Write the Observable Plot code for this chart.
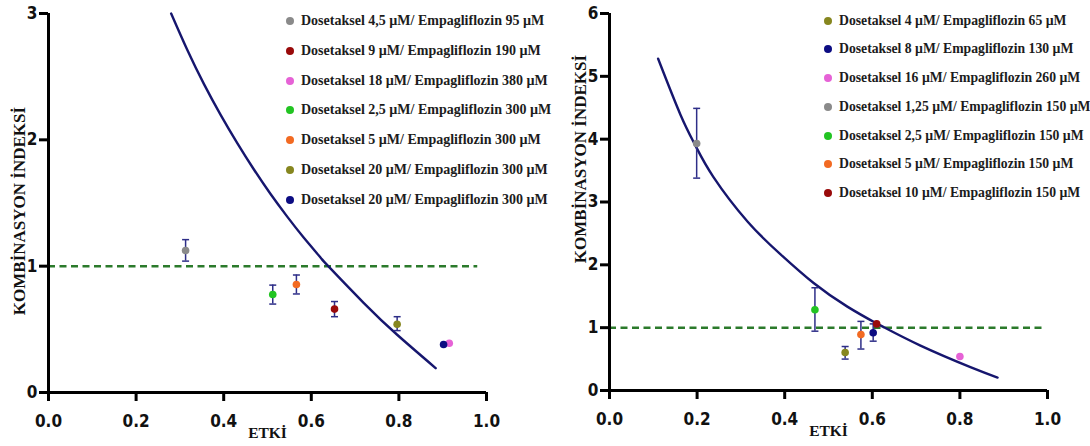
<!DOCTYPE html>
<html><head><meta charset="utf-8">
<script src="https://cdn.jsdelivr.net/npm/d3@7"></script>
<script src="https://cdn.jsdelivr.net/npm/@observablehq/plot@0.6"></script>
<style>
body{margin:0;background:#fff;}
#wrap{position:relative;width:1090px;height:446px;overflow:hidden;background:#fff;}
.panel{position:absolute;top:0;}
.legend{position:absolute;top:0;font-family:"Liberation Serif","Times New Roman",serif;font-weight:bold;color:#1c1c1c;}
.row{position:absolute;left:0;white-space:nowrap;display:flex;align-items:center;height:16px;line-height:16px;}
.sw{width:8px;height:8px;border-radius:50%;display:inline-block;margin-right:7px;flex:none;}
</style></head>
<body>
<div id="wrap">
  <div id="left" class="panel" style="left:0"></div>
  <div id="right" class="panel" style="left:545px"></div>
  <div id="legL" class="legend" style="left:286px;font-size:14px"></div>
  <div id="legR" class="legend" style="left:824px;font-size:13.7px"></div>
</div>
<script>
// ---------- data ----------
const xTicks = [0, 0.2, 0.4, 0.6, 0.8, 1.0];
const leftYTicks = [0, 1, 2, 3];
const rightYTicks = [0, 1, 2, 3, 4, 5, 6];
const yTitle = "KOMBİNASYON İNDEKSİ";
const xTitle = "ETKİ";

// Left panel
const leftLabels = [
  "Dosetaksel 4,5 µM/ Empagliflozin 95 µM",
  "Dosetaksel 9 µM/ Empagliflozin 190 µM",
  "Dosetaksel 18 µM/ Empagliflozin 380 µM",
  "Dosetaksel 2,5 µM/ Empagliflozin 300 µM",
  "Dosetaksel 5 µM/ Empagliflozin 300 µM",
  "Dosetaksel 20 µM/ Empagliflozin 300 µM",
  "Dosetaksel 20 µM/ Empagliflozin 300 µM"
];
const leftColors = ["#8a8a8a", "#990a0a", "#e662d6", "#22c422", "#f26a22", "#86861f", "#0c0c82"];
const leftFa = [0.313, 0.653, 0.915, 0.512, 0.566, 0.796, 0.902];
const leftCI = [1.124, 0.66, 0.39, 0.776, 0.855, 0.54, 0.38];
const leftLo = [1.04, 0.60, null, 0.70, 0.78, 0.49, null];
const leftHi = [1.21, 0.72, null, 0.85, 0.93, 0.60, null];
const leftCurveFa = [0.280, 0.317, 0.355, 0.393, 0.431, 0.469, 0.507, 0.545, 0.583, 0.621, 0.636, 0.720, 0.796, 0.884];
const leftCurveCI = [3.00, 2.711, 2.441, 2.198, 1.974, 1.765, 1.571, 1.392, 1.225, 1.069, 1.010, 0.708, 0.457, 0.193];

// Right panel
const rightLabels = [
  "Dosetaksel 4 µM/ Empagliflozin 65 µM",
  "Dosetaksel 8 µM/ Empagliflozin 130 µM",
  "Dosetaksel 16 µM/ Empagliflozin 260 µM",
  "Dosetaksel 1,25 µM/ Empagliflozin 150 µM",
  "Dosetaksel 2,5 µM/ Empagliflozin 150 µM",
  "Dosetaksel 5 µM/ Empagliflozin 150 µM",
  "Dosetaksel 10 µM/ Empagliflozin 150 µM"
];
const rightColors = ["#86861f", "#0c0c82", "#e662d6", "#8a8a8a", "#22c422", "#f26a22", "#990a0a"];
const rightFa = [0.538, 0.602, 0.800, 0.199, 0.469, 0.574, 0.610];
const rightCI = [0.605, 0.92, 0.54, 3.93, 1.285, 0.89, 1.06];
const rightLo = [0.50, 0.785, null, 3.38, 0.944, 0.66, null];
const rightHi = [0.70, 1.06, null, 4.49, 1.635, 1.10, null];
const rightCurveFa = [0.111, 0.162, 0.196, 0.237, 0.315, 0.390, 0.466, 0.543, 0.607, 0.626, 0.710, 0.824, 0.886];
const rightCurveCI = [5.28, 4.39, 3.90, 3.40, 2.69, 2.17, 1.71, 1.335, 1.078, 1.008, 0.714, 0.372, 0.205];

// ---------- build ----------
const tickFont = '"Liberation Sans Narrow","Arial Narrow","DejaVu Sans Condensed",sans-serif';
const serif = '"Liberation Serif","Times New Roman",serif';
const capSymbol = {draw(ctx) { ctx.moveTo(-3.5, 0); ctx.lineTo(3.5, 0); }};

function makePanel(o) {
  const pts = o.fa.map((x, i) => ({x, y: o.ci[i], color: o.colors[i], lo: o.lo[i], hi: o.hi[i]}));
  const err = pts.filter(d => d.lo != null);
  const curve = o.cfa.map((x, i) => ({x, y: o.cci[i]}));
  return Plot.plot({
    width: 545, height: 446,
    marginLeft: o.ml, marginRight: o.mr, marginTop: o.mt, marginBottom: o.mb,
    style: {background: "white", overflow: "visible"},
    color: {type: "identity"},
    x: {domain: [0, 1], label: null},
    y: {domain: [0, o.ymax], label: null},
    marks: [
      Plot.ruleY([1], {x1: 0, x2: o.dashEnd, stroke: "#2b7a2b", strokeWidth: 2.5, strokeDasharray: "7,4.5"}),
      Plot.line(curve, {x: "x", y: "y", curve: "natural", stroke: "#16166e", strokeWidth: 2.4}),
      Plot.ruleX(err, {x: "x", y1: "lo", y2: "hi", stroke: "#2e2e88", strokeWidth: 1.5}),
      Plot.dot(err, {x: "x", y: "lo", symbol: capSymbol, stroke: "#2e2e88", strokeWidth: 1.5}),
      Plot.dot(err, {x: "x", y: "hi", symbol: capSymbol, stroke: "#2e2e88", strokeWidth: 1.5}),
      Plot.dot(pts, {x: "x", y: "y", fill: "color", r: 3.8}),
      Plot.ruleX([0], {stroke: "black", strokeWidth: 3, insetBottom: -9}),
      Plot.ruleY([0], {stroke: "black", strokeWidth: 3}),
      Plot.axisX({ticks: xTicks, tickFormat: d3.format(".1f"), tickSize: 9, tickPadding: 13, strokeWidth: 3,
        fontSize: 17, fontWeight: "bold", fontFamily: tickFont, fill: "#111", label: null}),
      Plot.axisY({ticks: o.yticks, tickFormat: d3.format("d"), tickSize: 9, tickPadding: 2, strokeWidth: 3,
        fontSize: 17, fontWeight: "bold", fontFamily: tickFont, fill: "#111", label: null}),
      Plot.text([yTitle], {frameAnchor: "left", dx: -29, dy: o.yTitleDy, rotate: -90, text: d => d,
        fontFamily: serif, fontWeight: "bold", fontSize: 17, fill: "#111", textAnchor: "middle"}),
      Plot.text([xTitle], {frameAnchor: "bottom", dy: 41, text: d => d,
        fontFamily: serif, fontWeight: "bold", fontSize: 15.5, fill: "#111", lineAnchor: "middle"})
    ]
  });
}

document.getElementById("left").append(makePanel({
  ml: 48, mr: 59, mt: 13, mb: 54, ymax: 3, yticks: leftYTicks,
  fa: leftFa, ci: leftCI, lo: leftLo, hi: leftHi, colors: leftColors,
  cfa: leftCurveFa, cci: leftCurveCI, dashEnd: 0.98, yTitleDy: 8
}));
document.getElementById("right").append(makePanel({
  ml: 64, mr: 43, mt: 13, mb: 56, ymax: 6, yticks: rightYTicks,
  fa: rightFa, ci: rightCI, lo: rightLo, hi: rightHi, colors: rightColors,
  cfa: rightCurveFa, cci: rightCurveCI, dashEnd: 0.99, yTitleDy: -43
}));

function legend(id, labels, colors, first, step) {
  const el = document.getElementById(id);
  labels.forEach((t, i) => {
    const r = document.createElement("div");
    r.className = "row";
    r.style.top = (first + i * step - 8) + "px";
    const s = document.createElement("span");
    s.className = "sw"; s.style.background = colors[i];
    r.append(s, document.createTextNode(t));
    el.append(r);
  });
}
legend("legL", leftLabels, leftColors, 20.7, 29.9);
legend("legR", rightLabels, rightColors, 20.7, 28.7);
</script>
</body></html>
